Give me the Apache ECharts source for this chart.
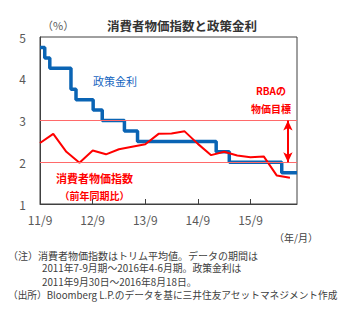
<!DOCTYPE html>
<html>
<head>
<meta charset="utf-8">
<script src="https://cdn.jsdelivr.net/npm/echarts@6/dist/echarts.min.js"></script>
<style>
  html, body { margin: 0; padding: 0; background: #fff; }
  #chart { width: 360px; height: 328px; }
</style>
</head>
<body>
<div id="chart"></div>
<script>
// Trimmed-mean CPI, year-on-year (%), quarter ends
const cpiDates = [
  '2011-09-30', '2011-12-31', '2012-03-31', '2012-06-30', '2012-09-30',
  '2012-12-31', '2013-03-31', '2013-06-30', '2013-09-30', '2013-12-31',
  '2014-03-31', '2014-06-30', '2014-09-30', '2014-12-31', '2015-03-31',
  '2015-06-30', '2015-09-30', '2015-12-31', '2016-03-31', '2016-06-30'
];
const cpiValues = [
  2.46, 2.68, 2.25, 1.99, 2.28,
  2.19, 2.31, 2.37, 2.43, 2.68,
  2.69, 2.74, 2.44, 2.17, 2.25,
  2.16, 2.12, 2.14, 1.68, 1.63
];

// RBA cash rate target (%), effective dates
const rateDates = [
  '2011-09-30', '2011-11-02', '2011-12-07', '2012-05-02', '2012-06-06',
  '2012-10-03', '2012-12-05', '2013-05-08', '2013-08-07', '2015-02-04',
  '2015-05-06', '2016-05-04', '2016-08-18'
];
const rateValues = [
  4.75, 4.50, 4.25, 3.75, 3.50,
  3.25, 3.00, 2.75, 2.50, 2.25,
  2.00, 1.75, 1.75
];

// Inflation target band (%)
const targetBand = [2, 3];
const arrowDate = '2016-06-16';

const axisStart = '2011-09-30';
const axisEnd = '2016-08-18';
const yTicks = [1, 2, 3, 4, 5];

const notes = [
  '（注）消費者物価指数はトリム平均値。データの期間は',
  '2011年7-9月期～2016年4-6月期。政策金利は',
  '2011年9月30日～2016年8月18日。',
  '（出所）Bloomberg L.P.のデータを基に三井住友アセットマネジメント作成'
];

// Months elapsed since the axis start
const DAY = 86400000;
function toMonths(d) {
  const p = d.split('-').map(Number);
  const s = axisStart.split('-').map(Number);
  return (Date.UTC(p[0], p[1] - 1, p[2]) - Date.UTC(s[0], s[1] - 1, s[2])) / (DAY * 30.4375);
}

const FONT = '"Noto Sans CJK JP", "Noto Sans", sans-serif';
const RED = '#ff0000';
const BLUE = '#0a64b4';

const chart = echarts.init(document.getElementById('chart'), null, { renderer: 'svg' });

function note(text, x, y, size) {
  return {
    type: 'text', x: x, y: y,
    style: { text: text, font: size + 'px ' + FONT, lineHeight: 11, fill: '#404040', verticalAlign: 'middle' }
  };
}

const option = {
  animation: false,
  backgroundColor: '#ffffff',
  textStyle: { fontFamily: FONT },
  grid: {
    left: 40, top: 37, right: 63, bottom: 124,
    show: true, borderColor: '#404040', borderWidth: 1, backgroundColor: 'transparent'
  },
  xAxis: {
    type: 'value',
    min: 0,
    max: toMonths(axisEnd),
    interval: 12,
    axisLine: { show: true, lineStyle: { color: '#404040', width: 1 } },
    axisTick: { show: true, inside: true, length: 5, lineStyle: { color: '#404040' } },
    splitLine: { show: false },
    axisLabel: {
      showMaxLabel: false,
      color: '#595959', fontSize: 12, margin: 9, fontFamily: FONT,
      formatter: v => {
        if (Math.abs(v % 12) > 1e-6) return '';
        return (11 + Math.round(v / 12)) + '/9';
      }
    }
  },
  yAxis: {
    type: 'value',
    min: yTicks[0],
    max: yTicks[yTicks.length - 1],
    interval: 1,
    axisLine: { show: true, lineStyle: { color: '#404040', width: 1 } },
    axisTick: { show: false },
    splitLine: { show: false },
    axisLabel: { color: '#595959', fontSize: 12, margin: 14, fontFamily: FONT }
  },
  series: [
    {
      name: '消費者物価指数',
      type: 'line',
      data: cpiDates.map((d, i) => [toMonths(d), cpiValues[i]]),
      showSymbol: false,
      lineStyle: { color: RED, width: 2 },
      z: 3,
      markLine: {
        silent: true,
        symbol: 'none',
        label: { show: false },
        lineStyle: { color: '#ff6a6a', width: 1, type: 'solid' },
        data: targetBand.map(v => ({ yAxis: v }))
      }
    },
    {
      name: '政策金利',
      type: 'line',
      step: 'end',
      data: rateDates.map((d, i) => [toMonths(d), rateValues[i]]),
      showSymbol: false,
      lineStyle: { color: BLUE, width: 3.5 },
      z: 2,
      markLine: {
        silent: true,
        symbol: ['arrow', 'arrow'],
        symbolSize: [7, 10],
        label: { show: false },
        lineStyle: { color: RED, width: 2, type: 'solid' },
        data: [[
          { coord: [toMonths(arrowDate), targetBand[1]] },
          { coord: [toMonths(arrowDate), targetBand[0]] }
        ]]
      }
    }
  ],
  graphic: [
    { type: 'text', left: 107, top: 19, style: { text: '消費者物価指数と政策金利', font: 'bold 12.5px ' + FONT, fill: '#333333' } },
    { type: 'text', left: 42, top: 19, style: { text: '（%）', font: '11px ' + FONT, fill: '#595959' } },
    { type: 'text', left: 93, top: 75, style: { text: '政策金利', font: '11px ' + FONT, fill: '#1565c0' } },
    { type: 'text', x: 94.5, y: 177.5, style: { text: '消費者物価指数', font: 'bold 11px ' + FONT, fill: RED, align: 'center', verticalAlign: 'middle' } },
    { type: 'text', x: 94.5, y: 195, style: { text: '（前年同期比）', font: 'bold 10px ' + FONT, fill: RED, align: 'center', verticalAlign: 'middle' } },
    { type: 'text', x: 271, y: 90.5, style: { text: 'RBAの', font: 'bold 10px ' + FONT, fill: RED, align: 'center', verticalAlign: 'middle' } },
    { type: 'text', x: 271, y: 108, style: { text: '物価目標', font: 'bold 10px ' + FONT, fill: RED, align: 'center', verticalAlign: 'middle' } },
    { type: 'text', x: 318, y: 237, style: { text: '（年/月）', font: '10px ' + FONT, fill: '#404040', align: 'right', verticalAlign: 'middle' } },
    note(notes[0], 8, 255, 10),
    note(notes[1], 42, 268.2, 9.8),
    note(notes[2], 42, 282, 9.8),
    note(notes[3], 8, 295, 9.7)
  ]
};

chart.setOption(option);
</script>
</body>
</html>
